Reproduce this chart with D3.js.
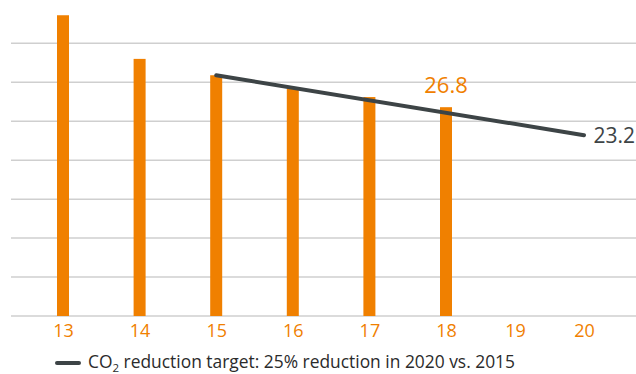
<!DOCTYPE html>
<html>
<head>
<meta charset="utf-8">
<script src="https://cdn.jsdelivr.net/npm/d3@7"></script>
<style>
  html, body { margin: 0; padding: 0; background: #fff; }
  svg { display: block; font-family: "Open Sans", "Noto Sans", sans-serif; }
</style>
</head>
<body>
<svg id="chart" width="636" height="374"></svg>
<script>
// Years shown on the axis (two-digit labels)
const years = [13, 14, 15, 16, 17, 18, 19, 20];
const yearLabels = ["13", "14", "15", "16", "17", "18", "19", "20"];

// Actual CO2 emissions per year
const emissionYears = [13, 14, 15, 16, 17, 18];
const emissionValues = [38.6, 33.0, 30.9, 29.2, 28.1, 26.8];

// Reduction target path: 2015 baseline to 2020 goal (-25%)
const targetYears = [15, 20];
const targetValues = [30.9, 23.2];

// Horizontal grid values
const gridValues = [0, 5, 10, 15, 20, 25, 30, 35];

const orange = "#f08000";
const dark = "#3d4446";

const svg = d3.select("#chart");

const x = d3.scaleLinear()
  .domain([13, 18, 20])
  .range([63, 446, 584]);

const y = d3.scaleLinear()
  .domain([0, 35])
  .range([316, 43.3]);

// gridlines
svg.append("g")
  .selectAll("line")
  .data(gridValues)
  .join("line")
  .attr("x1", 11)
  .attr("x2", 636)
  .attr("y1", d => y(d))
  .attr("y2", d => y(d))
  .attr("stroke", "#cfcfcf")
  .attr("stroke-width", 1.5);

// bars
const barW = 12;
svg.append("g")
  .selectAll("rect")
  .data(emissionYears.map((yr, i) => ({ yr, v: emissionValues[i] })))
  .join("rect")
  .attr("x", d => x(d.yr) - barW / 2)
  .attr("width", barW)
  .attr("y", d => y(d.v))
  .attr("height", d => y(0) - y(d.v))
  .attr("fill", orange);

// target line
const targetPts = targetYears.map((yr, i) => [x(yr), y(targetValues[i])]);
svg.append("path")
  .attr("d", d3.line()(targetPts))
  .attr("fill", "none")
  .attr("stroke", dark)
  .attr("stroke-width", 4)
  .attr("stroke-linecap", "round");

// value labels
const lastIdx = emissionValues.length - 1;
svg.append("text")
  .attr("x", x(emissionYears[lastIdx]))
  .attr("y", y(emissionValues[lastIdx]) - 14)
  .attr("text-anchor", "middle")
  .attr("fill", orange)
  .attr("font-size", 22)
  .text(emissionValues[lastIdx].toFixed(1));

svg.append("text")
  .attr("x", 635)
  .attr("y", y(targetValues[1]) + 8)
  .attr("text-anchor", "end")
  .attr("fill", dark)
  .attr("font-size", 21)
  .text(targetValues[1].toFixed(1));

// x axis labels
const axis = d3.axisBottom(x)
  .tickValues(years)
  .tickFormat((d, i) => yearLabels[i])
  .tickSize(0)
  .tickPadding(8);
const ax = svg.append("g")
  .attr("transform", `translate(0,${y(0)})`)
  .call(axis);
ax.select(".domain").remove();
ax.selectAll("text")
  .attr("fill", orange)
  .attr("font-size", 18)
  .attr("font-family", "'Open Sans', 'Noto Sans', sans-serif");

// legend
const lg = svg.append("g");
lg.append("line")
  .attr("x1", 57).attr("x2", 79)
  .attr("y1", 363).attr("y2", 363)
  .attr("stroke", dark)
  .attr("stroke-width", 4)
  .attr("stroke-linecap", "round");
const lt = lg.append("text")
  .attr("x", 88)
  .attr("y", 368)
  .attr("fill", "#2b2b2b")
  .attr("font-size", 17.4);
lt.append("tspan").text("CO");
lt.append("tspan").attr("font-size", 11.5).attr("dy", 4).text("2");
lt.append("tspan").attr("dy", -4).text(" reduction target: 25% reduction in 2020 vs. 2015");
</script>
</body>
</html>
